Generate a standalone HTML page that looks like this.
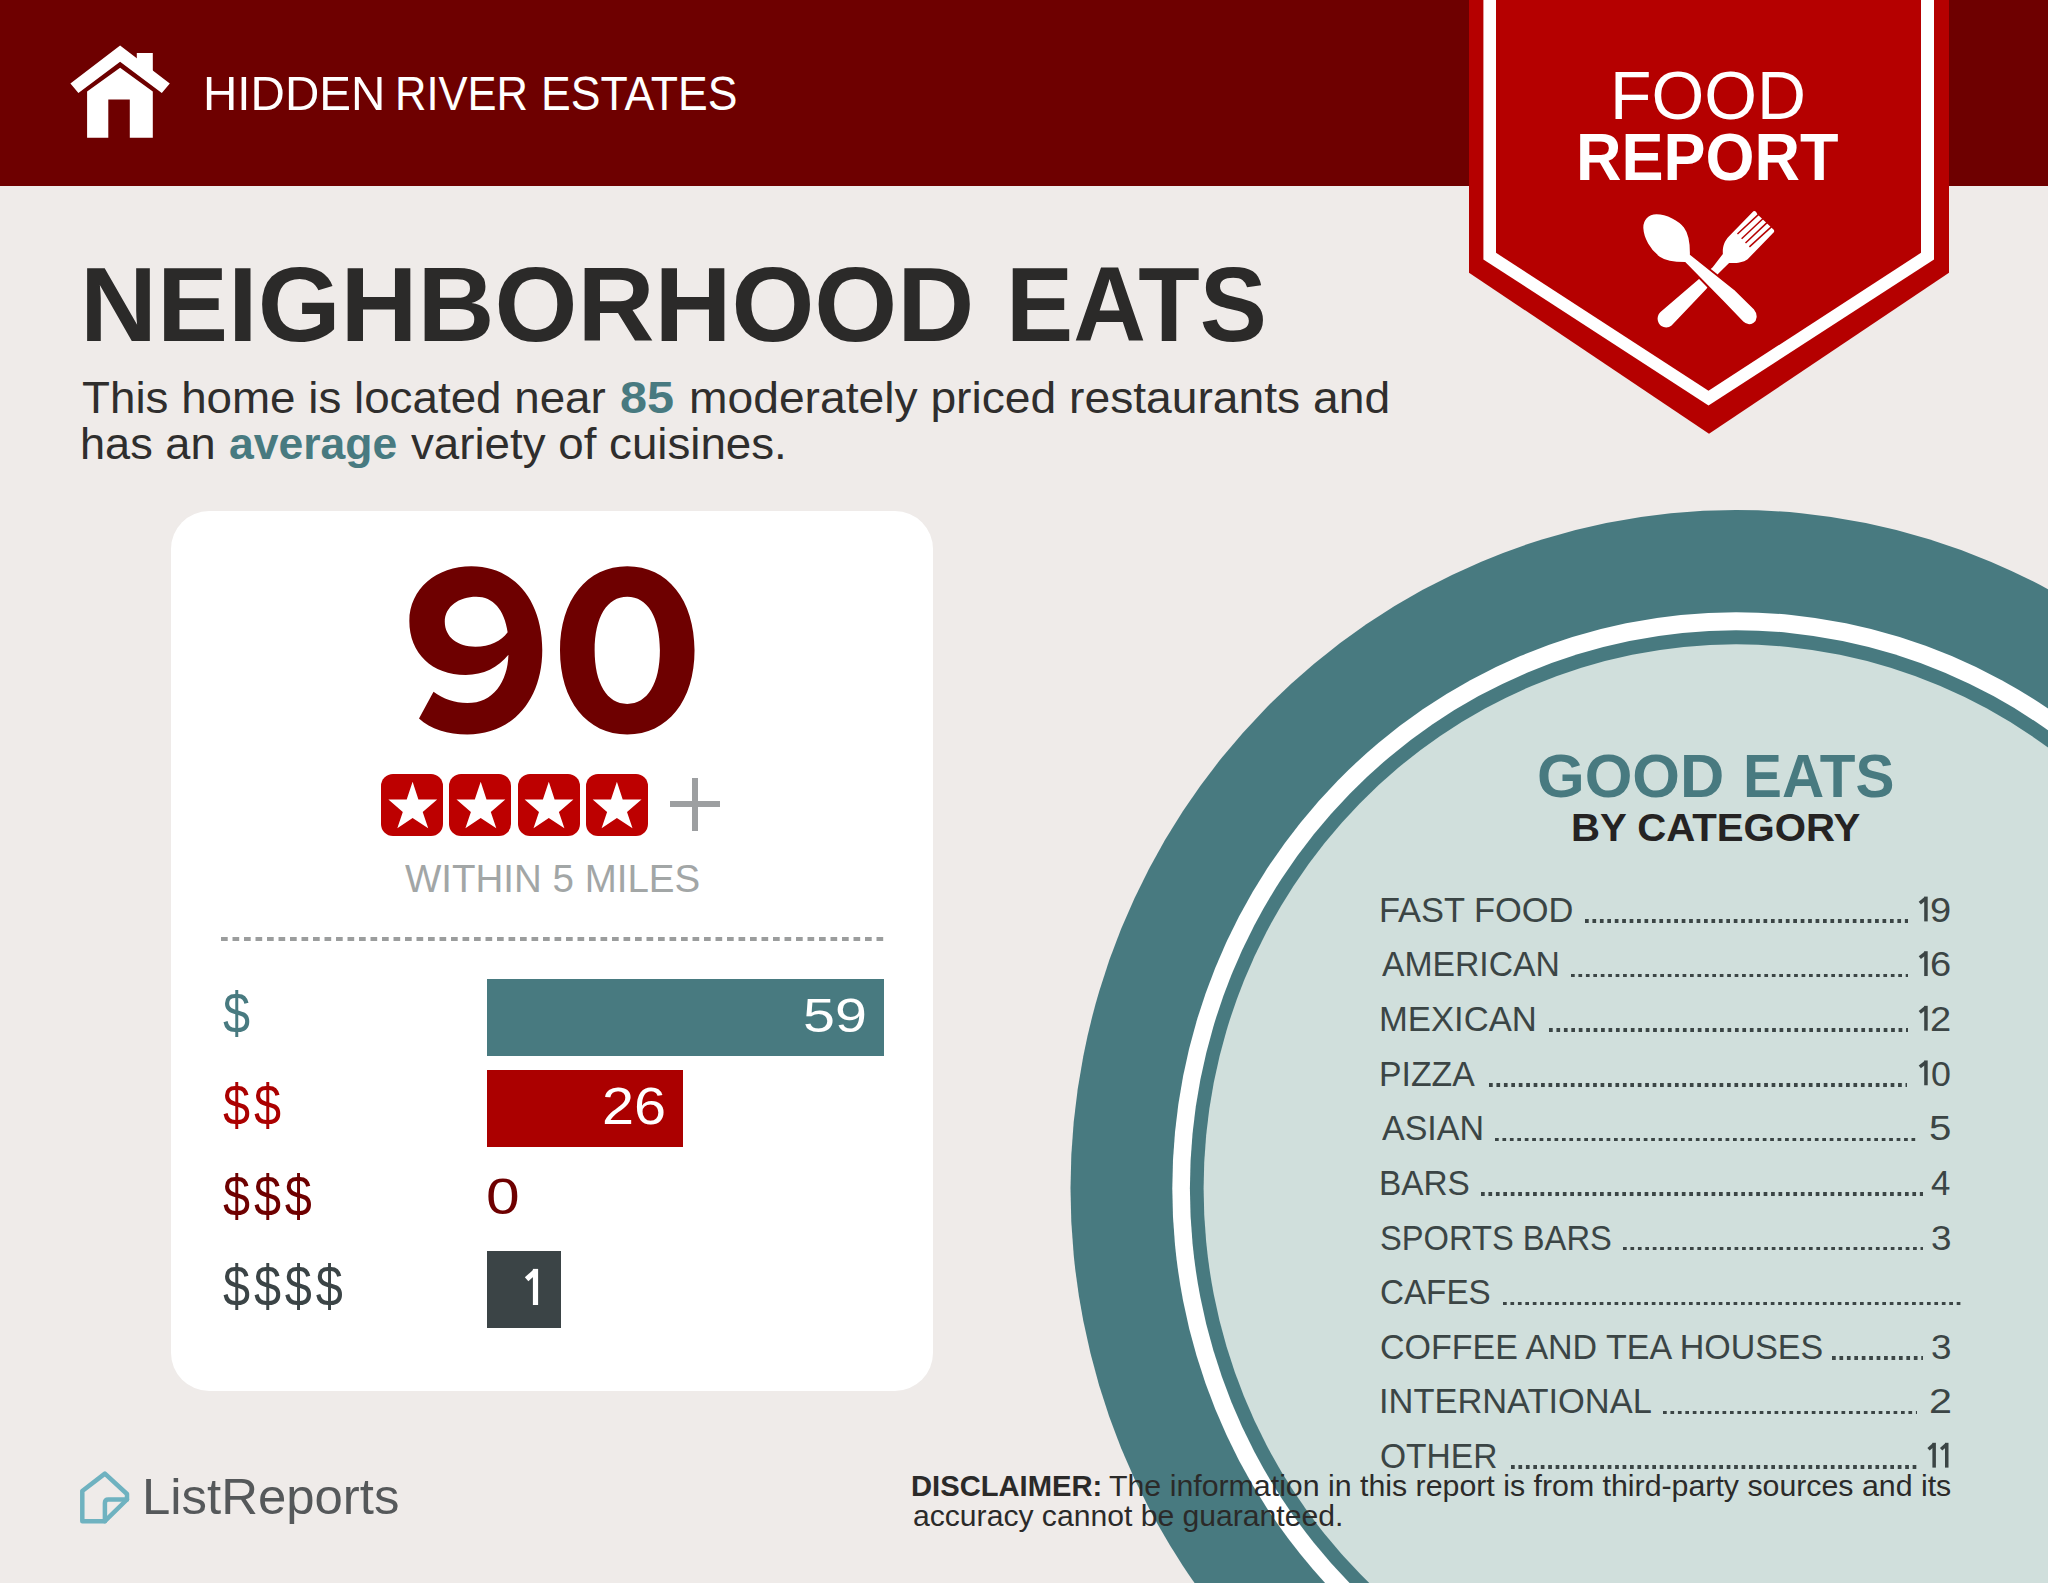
<!DOCTYPE html>
<html><head><meta charset="utf-8">
<style>
html,body{margin:0;padding:0;}
body{width:2048px;height:1583px;overflow:hidden;position:relative;background:#efebe9;font-family:"Liberation Sans",sans-serif;}
.t{position:absolute;white-space:nowrap;line-height:1;transform-origin:0 0;}
.t b{font-weight:700;}
#hdr{position:absolute;left:0;top:0;width:2048px;height:186px;background:#6e0000;}
svg{position:absolute;left:0;top:0;}
.card{position:absolute;left:171.4px;top:511.1px;width:761.8px;height:879.6px;background:#fff;border-radius:38px;}
.box{position:absolute;}
.dots{position:absolute;height:3.6px;background-image:linear-gradient(to right,#3b4545 3.5px,transparent 3.5px);background-size:7.45px 3.6px;}
</style></head><body>
<div id="hdr"></div>
<svg width="2048" height="1583" viewBox="0 0 2048 1583">
  <ellipse cx="1736" cy="1188.5" rx="665.5" ry="678.5" fill="#487a80"/>
  <ellipse cx="1736" cy="1188.5" rx="563.7" ry="576.3" fill="#ffffff"/>
  <ellipse cx="1736" cy="1188.5" rx="546.1" ry="558.3" fill="#487a80"/>
  <ellipse cx="1736" cy="1188.5" rx="532.4" ry="544.2" fill="#d0dfdc"/>
  <polygon points="1469,0 1949,0 1949,272.7 1709,433.8 1469,272.7" fill="#b50000"/>
  <polygon points="1483.4,0 1934,0 1934,259.5 1708.5,405.4 1483.4,259.5" fill="#ffffff"/>
  <polygon points="1496,0 1921,0 1921,252.8 1708.5,390.8 1496,252.8" fill="#b50000"/>
  <g fill="#ffffff">
    <polygon points="70.4,83.6 120.1,45.4 169.8,83.6 161.8,93 120.1,61.8 78.4,93"/>
    <polygon points="136.8,53.1 152.8,53.1 152.8,72 136.8,60"/>
    <path d="M87.1,137.8 L87.1,91.6 L120.1,67.7 L152.8,91.6 L152.8,137.8 L129.8,137.8 L129.8,99.6 L108.3,99.6 L108.3,137.8 Z"/>
  </g>
</svg>
<div class="card"></div>
<div class="t" style="left:202.7px;top:69.1px;font-size:48.55px;font-weight:400;color:#ffffff;transform:scaleX(0.9798);">HIDDEN</div>
<div class="t" style="left:395.1px;top:69.1px;font-size:48.55px;font-weight:400;color:#ffffff;transform:scaleX(0.8965);">RIVER</div>
<div class="t" style="left:541.2px;top:69.1px;font-size:48.55px;font-weight:400;color:#ffffff;transform:scaleX(0.9183);">ESTATES</div>
<div class="t" style="left:1610.2px;top:62.2px;font-size:67.68px;font-weight:400;color:#ffffff;transform:scaleX(1.0032);">FOOD</div>
<div class="t" style="left:1575.8px;top:122.5px;font-size:67.54px;font-weight:700;color:#ffffff;transform:scaleX(0.9329);">REPORT</div>
<div class="t" style="left:80.2px;top:252.2px;font-size:105.51px;font-weight:700;color:#2b2a29;transform:scaleX(1.0104);">NEIGHBORHOOD</div>
<div class="t" style="left:1006.1px;top:252.2px;font-size:105.51px;font-weight:700;color:#2b2a29;transform:scaleX(0.954);">EATS</div>
<div class="t" style="left:81.5px;top:376.0px;font-size:43.91px;font-weight:400;color:#2f2e2d;transform:scaleX(1.0419);">This home is located near</div>
<div class="t" style="left:619.8px;top:376.0px;font-size:43.91px;font-weight:700;color:#487a80;transform:scaleX(1.1064);">85</div>
<div class="t" style="left:688.8px;top:376.0px;font-size:43.91px;font-weight:400;color:#2f2e2d;transform:scaleX(1.0523);">moderately priced restaurants and</div>
<div class="t" style="left:80.3px;top:421.9px;font-size:43.91px;font-weight:400;color:#2f2e2d;transform:scaleX(1.0286);">has an</div>
<div class="t" style="left:228.5px;top:421.9px;font-size:43.91px;font-weight:700;color:#487a80;transform:scaleX(1.014);">average</div>
<div class="t" style="left:411.0px;top:421.9px;font-size:43.91px;font-weight:400;color:#2f2e2d;transform:scaleX(1.0406);">variety of cuisines.</div>
<svg style="position:absolute;left:390px;top:550px" width="330" height="200" viewBox="0 0 2048 1241">
<path fill="#6e0000" fill-rule="evenodd" d="M505,100 C760,100 945,300 945,620 C945,930 760,1145 480,1145 C360,1145 250,1110 180,1045 L270,880 C330,925 400,950 480,950 C640,950 730,820 735,650 C670,730 580,775 470,775 C260,775 120,640 120,440 C120,240 290,100 505,100 Z M535,290 C430,290 340,350 340,445 C340,540 420,600 530,600 C620,600 690,565 730,510 C710,370 640,290 535,290 Z"/>
<path fill="#6e0000" fill-rule="evenodd" d="M1472.5,100.0 C1723.0,100.0 1890.0,309.0 1890.0,622.5 C1890.0,936.0 1723.0,1145.0 1472.5,1145.0 C1222.0,1145.0 1055.0,936.0 1055.0,622.5 C1055.0,309.0 1222.0,100.0 1472.5,100.0 Z M1472.5,290.0 C1598.0,290.0 1675.0,416.4 1675.0,622.5 C1675.0,828.6 1598.0,955.0 1472.5,955.0 C1347.0,955.0 1270.0,828.6 1270.0,622.5 C1270.0,416.4 1347.0,290.0 1472.5,290.0 Z"/>
</svg>
<div class="t" style="left:405.0px;top:858.5px;font-size:39.13px;font-weight:400;color:#a2a6a6;transform:scaleX(0.9839);">WITHIN 5 MILES</div>
<div class="box" style="left:381.3px;top:774.4px;width:62px;height:61.3px;background:#bd0000;border-radius:12px;"></div>
<div class="box" style="left:449.4px;top:774.4px;width:62px;height:61.3px;background:#bd0000;border-radius:12px;"></div>
<div class="box" style="left:517.5px;top:774.4px;width:62px;height:61.3px;background:#bd0000;border-radius:12px;"></div>
<div class="box" style="left:585.6px;top:774.4px;width:62px;height:61.3px;background:#bd0000;border-radius:12px;"></div>
<svg width="2048" height="1583" viewBox="0 0 2048 1583" style="pointer-events:none"><polygon fill="#fff" points="412.6,781.8 418.4,799.4 437.2,799.4 422.7,811.9 428.2,828.3 412.6,818.1 397.3,828.3 402.8,811.9 388.4,799.4 406.7,799.4"/><polygon fill="#fff" points="480.7,781.8 486.5,799.4 505.3,799.4 490.8,811.9 496.3,828.3 480.7,818.1 465.4,828.3 470.9,811.9 456.5,799.4 474.8,799.4"/><polygon fill="#fff" points="548.8,781.8 554.6,799.4 573.4,799.4 558.9,811.9 564.4,828.3 548.8,818.1 533.5,828.3 539.0,811.9 524.6,799.4 542.9,799.4"/><polygon fill="#fff" points="616.9,781.8 622.7,799.4 641.5,799.4 627.0,811.9 632.5,828.3 616.9,818.1 601.6,828.3 607.1,811.9 592.7,799.4 611.0,799.4"/></svg>
<div class="box" style="left:670px;top:801px;width:50px;height:5.8px;background:#9d9fa1"></div>
<div class="box" style="left:691.9px;top:778.2px;width:6.1px;height:52.4px;background:#9d9fa1"></div>
<div class="box" style="left:220.8px;top:937.3px;width:663px;height:3.5px;background-image:linear-gradient(to right,#9b9d9d 7px,transparent 7px);background-size:11.5px 3.5px;"></div>
<div class="box" style="left:486.8px;top:978.9px;width:397px;height:77.2px;background:#487a80"></div>
<div class="box" style="left:486.8px;top:1069.6px;width:196px;height:77.2px;background:#ab0000"></div>
<div class="box" style="left:486.8px;top:1250.9px;width:74.4px;height:77.2px;background:#3b4446"></div>
<div class="t" style="left:802.6px;top:990.7px;font-size:48.7px;font-weight:400;color:#ffffff;transform:scaleX(1.18);">59</div>
<div class="t" style="left:601.5px;top:1079.6px;font-size:52.03px;font-weight:400;color:#ffffff;transform:scaleX(1.1074);">26</div>
<div class="t" style="left:485.6px;top:1171.8px;font-size:50.29px;font-weight:400;color:#6e0000;transform:scaleX(1.2042);">0</div>
<svg style="position:absolute;left:0;top:0" width="2048" height="1583" viewBox="0 0 2048 1583"><rect x="532.9" y="1268.9" width="5.2" height="36.1" fill="#fff"/><line x1="535.5" y1="1271.3" x2="526.6" y2="1279.3" stroke="#fff" stroke-width="5.2"/></svg>
<div class="t" data-w="27.0" style="left:223.1px;top:985.4px;font-size:57.0px;color:#487a80;letter-spacing:4.5px;transform:scaleX(0.853)">$</div>
<div class="t" data-w="57.80000000000001" style="left:223.1px;top:1076.7px;font-size:57.0px;color:#ab0000;letter-spacing:4.5px;transform:scaleX(0.853)">$$</div>
<div class="t" data-w="88.69999999999999" style="left:223.1px;top:1167.5px;font-size:57.0px;color:#6e0000;letter-spacing:4.5px;transform:scaleX(0.853)">$$$</div>
<div class="t" data-w="119.60000000000002" style="left:223.1px;top:1258.1px;font-size:57.0px;color:#3b4446;letter-spacing:4.5px;transform:scaleX(0.853)">$$$$</div>
<div class="t" style="left:1536.6px;top:745.1px;font-size:61.45px;font-weight:700;color:#487a80;transform:scaleX(0.9978);">GOOD</div>
<div class="t" style="left:1742.8px;top:745.1px;font-size:61.45px;font-weight:700;color:#487a80;transform:scaleX(0.9503);">EATS</div>
<div class="t" style="left:1570.7px;top:808.0px;font-size:39.71px;font-weight:700;color:#252323;transform:scaleX(1.0113);">BY CATEGORY</div>
<div class="t" style="left:1378.7px;top:892.8px;font-size:34.8px;color:#3b4545;transform:scaleX(0.9891)">FAST FOOD</div>
<div class="dots" style="left:1585.4px;top:919.2px;width:322.7px"></div>
<svg style="position:absolute;left:0;top:0" width="2048" height="1583" viewBox="0 0 2048 1583"><rect x="1924.20" y="896.60" width="3.5" height="24.80" fill="#3b4545"/><line x1="1925.95" y1="898.18" x2="1919.80" y2="903.10" stroke="#3b4545" stroke-width="3.5"/></svg>
<div class="t" style="left:1930.0px;top:892.8px;font-size:34.8px;color:#3b4545;transform:scaleX(1.0938)">9</div>
<div class="t" style="left:1381.7px;top:947.4px;font-size:34.8px;color:#3b4545;transform:scaleX(0.9685)">AMERICAN</div>
<div class="dots" style="left:1570.7px;top:973.8px;width:337.4px"></div>
<svg style="position:absolute;left:0;top:0" width="2048" height="1583" viewBox="0 0 2048 1583"><rect x="1924.20" y="951.22" width="3.5" height="24.80" fill="#3b4545"/><line x1="1925.95" y1="952.80" x2="1919.80" y2="957.72" stroke="#3b4545" stroke-width="3.5"/></svg>
<div class="t" style="left:1930.0px;top:947.4px;font-size:34.8px;color:#3b4545;transform:scaleX(1.0938)">6</div>
<div class="t" style="left:1378.7px;top:1002.1px;font-size:34.8px;color:#3b4545;transform:scaleX(0.9954)">MEXICAN</div>
<div class="dots" style="left:1548.7px;top:1028.4px;width:359.4px"></div>
<svg style="position:absolute;left:0;top:0" width="2048" height="1583" viewBox="0 0 2048 1583"><rect x="1924.20" y="1005.84" width="3.5" height="24.80" fill="#3b4545"/><line x1="1925.95" y1="1007.41" x2="1919.80" y2="1012.34" stroke="#3b4545" stroke-width="3.5"/></svg>
<div class="t" style="left:1930.0px;top:1002.1px;font-size:34.8px;color:#3b4545;transform:scaleX(1.0938)">2</div>
<div class="t" style="left:1378.8px;top:1056.7px;font-size:34.8px;color:#3b4545;transform:scaleX(0.9708)">PIZZA</div>
<div class="dots" style="left:1488.7px;top:1083.1px;width:418.6px"></div>
<svg style="position:absolute;left:0;top:0" width="2048" height="1583" viewBox="0 0 2048 1583"><rect x="1924.20" y="1060.46" width="3.5" height="24.80" fill="#3b4545"/><line x1="1925.95" y1="1062.04" x2="1919.80" y2="1066.96" stroke="#3b4545" stroke-width="3.5"/></svg>
<div class="t" style="left:1931.2px;top:1056.7px;font-size:34.8px;color:#3b4545;transform:scaleX(1.0294)">0</div>
<div class="t" style="left:1381.7px;top:1111.3px;font-size:34.8px;color:#3b4545;transform:scaleX(0.9765)">ASIAN</div>
<div class="dots" style="left:1495.4px;top:1137.7px;width:421.5px"></div>
<div class="t" style="left:1928.7px;top:1111.3px;font-size:34.8px;color:#3b4545;transform:scaleX(1.1562)">5</div>
<div class="t" style="left:1378.8px;top:1165.9px;font-size:34.8px;color:#3b4545;transform:scaleX(0.9589)">BARS</div>
<div class="dots" style="left:1481.3px;top:1192.3px;width:441.5px"></div>
<div class="t" style="left:1931.0px;top:1165.9px;font-size:34.8px;color:#3b4545;transform:scaleX(1.0)">4</div>
<div class="t" style="left:1379.8px;top:1220.5px;font-size:34.8px;color:#3b4545;transform:scaleX(0.9389)">SPORTS BARS</div>
<div class="dots" style="left:1622.6px;top:1246.9px;width:300.2px"></div>
<div class="t" style="left:1930.9px;top:1220.5px;font-size:34.8px;color:#3b4545;transform:scaleX(1.0588)">3</div>
<div class="t" style="left:1379.8px;top:1275.2px;font-size:34.8px;color:#3b4545;transform:scaleX(0.954)">CAFES</div>
<div class="dots" style="left:1503.3px;top:1301.5px;width:458.7px"></div>
<div class="t" style="left:1379.7px;top:1329.8px;font-size:34.8px;color:#3b4545;transform:scaleX(0.9767)">COFFEE AND TEA HOUSES</div>
<div class="dots" style="left:1832.4px;top:1356.2px;width:90.4px"></div>
<div class="t" style="left:1930.9px;top:1329.8px;font-size:34.8px;color:#3b4545;transform:scaleX(1.0588)">3</div>
<div class="t" style="left:1378.7px;top:1384.4px;font-size:34.8px;color:#3b4545;transform:scaleX(0.989)">INTERNATIONAL</div>
<div class="dots" style="left:1663px;top:1410.8px;width:253.9px"></div>
<div class="t" style="left:1928.6px;top:1384.4px;font-size:34.8px;color:#3b4545;transform:scaleX(1.1875)">2</div>
<div class="t" style="left:1379.8px;top:1439.0px;font-size:34.8px;color:#3b4545;transform:scaleX(0.9636)">OTHER</div>
<div class="dots" style="left:1510.6px;top:1465.4px;width:406.3px"></div>
<svg style="position:absolute;left:0;top:0" width="2048" height="1583" viewBox="0 0 2048 1583"><rect x="1932.40" y="1442.80" width="3.5" height="24.80" fill="#3b4545"/><line x1="1934.15" y1="1444.38" x2="1928.50" y2="1449.30" stroke="#3b4545" stroke-width="3.5"/></svg>
<svg style="position:absolute;left:0;top:0" width="2048" height="1583" viewBox="0 0 2048 1583"><rect x="1945.00" y="1442.80" width="3.5" height="24.80" fill="#3b4545"/><line x1="1946.75" y1="1444.38" x2="1941.10" y2="1449.30" stroke="#3b4545" stroke-width="3.5"/></svg>
<div class="t" style="left:141.9px;top:1472.4px;font-size:49.28px;font-weight:400;color:#55585a;transform:scaleX(1.0329);">ListReports</div>
<svg width="2048" height="1583" viewBox="0 0 2048 1583"><g fill="none" stroke="#6fb2c0" stroke-width="4.5" stroke-linejoin="round" stroke-linecap="round">
<path d="M104.9,1521.2 L82.3,1521.2 L82.3,1491 L104.9,1473.6 L127,1494 L127,1499.5 Z"/>
<path d="M104.9,1521.2 L104.9,1503 Q104.9,1499.5 108.4,1499.5 L127,1499.5"/>
</g></svg>
<div class="t" style="left:911.4px;top:1470.7px;font-size:29.71px;font-weight:700;color:#2b2a29;transform:scaleX(0.9821);">DISCLAIMER:</div>
<div class="t" style="left:1108.6px;top:1470.7px;font-size:29.71px;font-weight:400;color:#2b2a29;transform:scaleX(1.0204);">The information in this report is from third-party sources and its</div>
<div class="t" style="left:912.9px;top:1500.8px;font-size:29.71px;font-weight:400;color:#2b2a29;transform:scaleX(1.0138);">accuracy cannot be guaranteed.</div>
<svg style="position:absolute;left:1630px;top:200px" width="160" height="140" viewBox="0 0 1809 1583">
<g fill="#ffffff">
<!-- fork handle + head -->
<path d="M1050,610 C1045,540 1060,470 1120,410 L1395,128 Q1420,110 1440,160 L1625,335 Q1640,360 1615,375 L1330,670 C1270,715 1180,715 1120,712 L1000,830 L860,1010 L470,1420 C420,1460 340,1440 320,1380 C300,1330 320,1290 345,1265 L935,760 Z"/>
</g>
<g stroke="#b50000" stroke-width="17" stroke-linecap="butt"><line x1="1215" y1="385" x2="1469" y2="148"/><line x1="1262" y1="438" x2="1517" y2="198"/><line x1="1306" y1="487" x2="1561" y2="245"/><line x1="1350" y1="530" x2="1610" y2="293"/></g>
<!-- spoon with red outline -->
<path fill="#ffffff" stroke="#b50000" stroke-width="22" d="M300,150 C420,150 560,230 615,300 C675,380 690,500 688,615 L1180,1005 L1410,1230 C1460,1290 1450,1370 1400,1400 C1350,1430 1300,1410 1270,1380 L1050,1150 L620,712 C520,712 400,700 330,650 C220,570 145,430 140,320 C135,220 200,150 300,150 Z"/>
</svg>

</body></html>
